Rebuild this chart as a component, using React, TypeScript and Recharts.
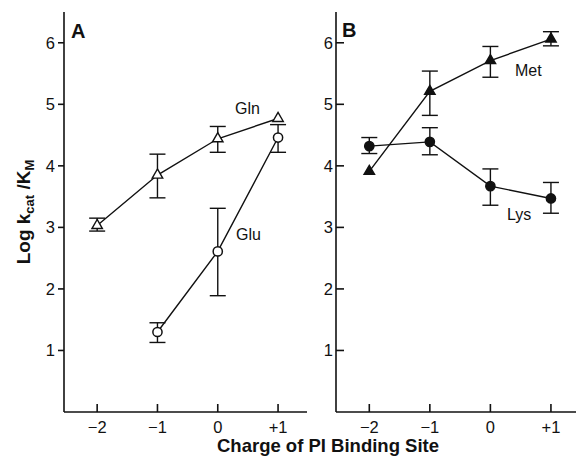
import React from 'react';
import { LineChart, Line, XAxis, YAxis, ErrorBar } from 'recharts';

// ---- data ----
const charges = [-2, -1, 0, 1];
const xTicks = [-2, -1, 0, 1];
const yTicks = [1, 2, 3, 4, 5, 6];

// Panel A
const glnVals = [3.03, 3.85, 4.44, 4.77];
const glnLow = [2.94, 3.48, 4.22, null];
const glnHigh = [3.15, 4.19, 4.64, null];
const gluVals = [null, 1.3, 2.61, 4.46];
const gluLow = [null, 1.13, 1.89, 4.22];
const gluHigh = [null, 1.45, 3.31, 4.67];

// Panel B
const metVals = [3.91, 5.21, 5.71, 6.06];
const metLow = [null, 4.82, 5.44, 5.95];
const metHigh = [null, 5.54, 5.94, 6.18];
const lysVals = [4.32, 4.39, 3.67, 3.47];
const lysLow = [4.2, 4.18, 3.36, 3.23];
const lysHigh = [4.46, 4.62, 3.95, 3.73];

type Num = number | null;

function errOf(v: Num, lo: Num, hi: Num) {
  if (v == null || lo == null || hi == null) return undefined;
  return [v - lo, hi - v];
}

function buildRows(series: { key: string; vals: Num[]; lo: Num[]; hi: Num[] }[]) {
  return charges.map((x, i) => {
    const row: any = { x };
    series.forEach((s) => {
      row[s.key] = s.vals[i];
      row[s.key + 'Err'] = errOf(s.vals[i], s.lo[i], s.hi[i]);
    });
    return row;
  });
}

const dataA = buildRows([
  { key: 'gln', vals: glnVals, lo: glnLow, hi: glnHigh },
  { key: 'glu', vals: gluVals, lo: gluLow, hi: gluHigh },
]);
const dataB = buildRows([
  { key: 'met', vals: metVals, lo: metLow, hi: metHigh },
  { key: 'lys', vals: lysVals, lo: lysLow, hi: lysHigh },
]);

const fmtCharge = (v: number) => (v > 0 ? `+${v}` : v < 0 ? `\u2212${Math.abs(v)}` : '0');

const INK = '#111';
const FONT = '"Liberation Sans", Arial, sans-serif';
const axisStyle = { stroke: INK, strokeWidth: 1.6 };
const tickStyle = { fill: INK, fontSize: 16.5, fontFamily: FONT };

type Marker = 'triOpen' | 'circOpen' | 'triFill' | 'circFill';

function makeDot(kind: Marker) {
  return (props: any) => {
    const { cx, cy, index } = props;
    if (cx == null || cy == null || props.value == null || Number.isNaN(cy)) {
      return <g key={`d-${kind}-${index}`} />;
    }
    const fill = kind === 'triFill' || kind === 'circFill' ? INK : '#fff';
    if (kind === 'triOpen' || kind === 'triFill') {
      const s = 10.5;
      const h = (s * Math.sqrt(3)) / 2;
      const pts = `${cx},${cy - (2 * h) / 3} ${cx - s / 2},${cy + h / 3} ${cx + s / 2},${cy + h / 3}`;
      return <polygon key={`d-${kind}-${index}`} points={pts} fill={fill} stroke={INK} strokeWidth={1.4} />;
    }
    return <circle key={`d-${kind}-${index}`} cx={cx} cy={cy} r={4.6} fill={fill} stroke={INK} strokeWidth={1.5} />;
  };
}

type SeriesCfg = { key: string; marker: Marker };

function Panel(props: {
  data: any[];
  series: SeriesCfg[];
  left: number;
  width: number;
  yAxisWidth: number;
  marginRight: number;
  leftTickSize: number;
  leftTickMargin: number;
}) {
  const { data, series, left, width, yAxisWidth, marginRight, leftTickSize, leftTickMargin } = props;
  const xDomain: [number, number] = [-2.55, 1.48];
  const yDomain: [number, number] = [0, 6.5];
  return (
    <div style={{ position: 'absolute', left, top: 0 }}>
      <LineChart
        width={width}
        height={450}
        data={data}
        margin={{ top: 12, right: marginRight, bottom: 8, left: 0 }}
      >
        <XAxis
          xAxisId="b"
          dataKey="x"
          type="number"
          domain={xDomain}
          ticks={xTicks}
          interval={0}
          allowDataOverflow
          tickFormatter={fmtCharge}
          tickSize={-8}
          tickMargin={17}
          height={30}
          axisLine={axisStyle}
          tickLine={axisStyle}
          tick={tickStyle}
        />
        <XAxis
          xAxisId="t"
          orientation="top"
          dataKey="x"
          type="number"
          domain={xDomain}
          ticks={xTicks}
          interval={0}
          allowDataOverflow
          tickSize={-8}
          height={0}
          axisLine={axisStyle}
          tickLine={axisStyle}
          tick={false}
        />
        <YAxis
          yAxisId="l"
          type="number"
          domain={yDomain}
          ticks={yTicks}
          interval={0}
          allowDataOverflow
          width={yAxisWidth}
          tickSize={leftTickSize}
          tickMargin={leftTickMargin}
          axisLine={axisStyle}
          tickLine={axisStyle}
          tick={tickStyle}
        />
        <YAxis
          yAxisId="r"
          orientation="right"
          type="number"
          domain={yDomain}
          ticks={yTicks}
          interval={0}
          allowDataOverflow
          width={0}
          tickSize={-8}
          axisLine={axisStyle}
          tickLine={axisStyle}
          tick={false}
        />
        {series.map((s) => (
          <Line
            key={s.key}
            xAxisId="b"
            yAxisId="l"
            dataKey={s.key}
            stroke={INK}
            strokeWidth={1.4}
            isAnimationActive={false}
            dot={makeDot(s.marker)}
            activeDot={false}
            connectNulls={false}
          >
            <ErrorBar dataKey={s.key + 'Err'} width={8} stroke={INK} strokeWidth={1.4} direction="y" />
          </Line>
        ))}
      </LineChart>
    </div>
  );
}

const lbl: React.CSSProperties = {
  position: 'absolute',
  fontFamily: FONT,
  color: INK,
  whiteSpace: 'nowrap',
  lineHeight: 1,
};

export default function App() {
  return (
    <div
      style={{
        position: 'fixed',
        left: 0,
        top: 0,
        width: 576,
        height: 460,
        overflow: 'hidden',
        background: '#fff',
      }}
    >
      <Panel
        data={dataA}
        series={[
          { key: 'gln', marker: 'triOpen' },
          { key: 'glu', marker: 'circOpen' },
        ]}
        left={0}
        width={310}
        yAxisWidth={64}
        marginRight={3}
        leftTickSize={6}
        leftTickMargin={3}
      />
      <Panel
        data={dataB}
        series={[
          { key: 'met', marker: 'triFill' },
          { key: 'lys', marker: 'circFill' },
        ]}
        left={300}
        width={280}
        yAxisWidth={36}
        marginRight={0}
        leftTickSize={-8}
        leftTickMargin={11}
      />

      {/* panel letters */}
      <div style={{ ...lbl, left: 71, top: 21, fontSize: 20, fontWeight: 'bold' }}>A</div>
      <div style={{ ...lbl, left: 342, top: 20, fontSize: 20, fontWeight: 'bold' }}>B</div>

      {/* series labels */}
      <div style={{ ...lbl, left: 235, top: 101, fontSize: 16 }}>Gln</div>
      <div style={{ ...lbl, left: 236, top: 227, fontSize: 16 }}>Glu</div>
      <div style={{ ...lbl, left: 515, top: 63, fontSize: 16 }}>Met</div>
      <div style={{ ...lbl, left: 507, top: 207, fontSize: 16 }}>Lys</div>

      {/* axis titles */}
      <div
        style={{
          ...lbl,
          left: 25,
          top: 212,
          fontSize: 19,
          fontWeight: 'bold',
          transform: 'translate(-50%, -50%) rotate(-90deg)',
        }}
      >
        Log k<sub style={{ fontSize: 13, verticalAlign: '-0.25em' }}>cat</sub> /K
        <sub style={{ fontSize: 13, verticalAlign: '-0.25em' }}>M</sub>
      </div>
      <div
        style={{
          ...lbl,
          left: 328,
          top: 446,
          fontSize: 18.5,
          fontWeight: 'bold',
          transform: 'translate(-50%, -50%)',
        }}
      >
        Charge of PI Binding Site
      </div>
    </div>
  );
}
